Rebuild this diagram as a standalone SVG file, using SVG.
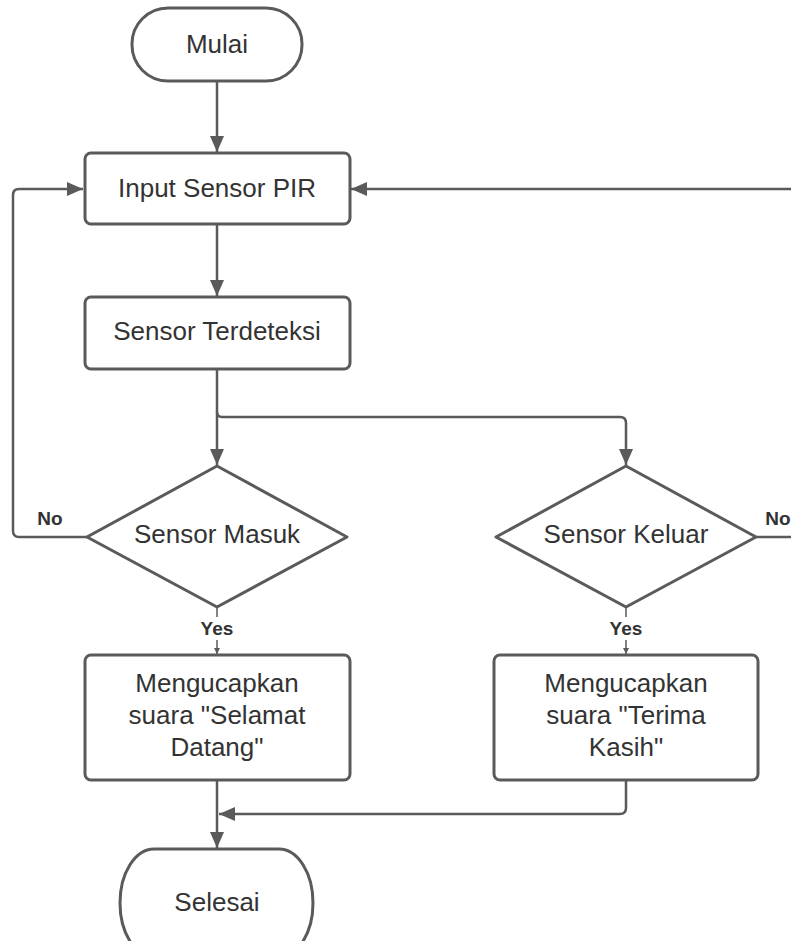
<svg xmlns="http://www.w3.org/2000/svg" width="791" height="941" viewBox="0 0 791 941">
<defs>
<style>
.shape{fill:#fff;stroke:#5a5a5a;stroke-width:3}
.conn{fill:none;stroke:#5a5a5a;stroke-width:2.5;stroke-linejoin:round}
.thin{fill:none;stroke:#5a5a5a;stroke-width:1.5}
.t{font-family:"Liberation Sans",Arial,Helvetica,sans-serif;font-size:26px;fill:#333;text-anchor:middle;dominant-baseline:central}
.lbl{font-family:"Liberation Sans",Arial,Helvetica,sans-serif;font-size:19px;font-weight:bold;fill:#333;text-anchor:middle;dominant-baseline:central}
</style>
<marker id="arr" markerUnits="userSpaceOnUse" viewBox="0 0 16 14" markerWidth="16" markerHeight="14" refX="16" refY="7" orient="auto">
<path d="M0,0 L16,7 L0,14 z" fill="#5a5a5a"/>
</marker>
<marker id="sarr" markerUnits="userSpaceOnUse" viewBox="0 0 6 6" markerWidth="6" markerHeight="6" refX="6" refY="3" orient="auto">
<path d="M0,0 L6,3 L0,6 z" fill="#5a5a5a"/>
</marker>
</defs>
<rect width="791" height="941" fill="#fff"/>
<g id="connectors">
<path class="conn" d="M217,81 V152" marker-end="url(#arr)"/>
<path class="conn" d="M217,224 V296" marker-end="url(#arr)"/>
<path class="conn" d="M217,369 V465" marker-end="url(#arr)"/>
<path class="conn" d="M217,412 Q217,417 222,417 H620 Q626,417 626,423 V465" marker-end="url(#arr)"/>
<path class="conn" d="M87,537 H19 Q13,537 13,531 V195 Q13,189 19,189 H83" marker-end="url(#arr)"/>
<path class="conn" d="M756,537 H791"/>
<path class="conn" d="M791,189 H351" marker-end="url(#arr)"/>
<path class="thin" d="M217,607 V654" marker-end="url(#sarr)"/>
<path class="thin" d="M626,607 V654" marker-end="url(#sarr)"/>
<path class="conn" d="M217,780 V848" marker-end="url(#arr)"/>
<path class="conn" d="M626,780 V808 Q626,814 620,814 H219" marker-end="url(#arr)"/>
<g id="labels">
<text class="lbl" x="50" y="518">No</text>
<text class="lbl" x="778" y="518">No</text>
<rect x="197" y="617" width="40" height="23" fill="#fff"/>
<text class="lbl" x="217" y="628">Yes</text>
<rect x="606" y="617" width="40" height="23" fill="#fff"/>
<text class="lbl" x="626" y="628">Yes</text>
</g>
</g>
<g id="mulai">
<rect class="shape" x="132" y="8" width="170" height="73" rx="36" ry="36"/>
<text class="t" x="217" y="44">Mulai</text>
</g>
<g id="input">
<rect class="shape" x="85" y="153" width="265" height="71" rx="6"/>
<text class="t" x="217" y="188">Input Sensor PIR</text>
</g>
<g id="terdeteksi">
<rect class="shape" x="85" y="297" width="265" height="72" rx="6"/>
<text class="t" x="217" y="331">Sensor Terdeteksi</text>
</g>
<g id="masuk">
<polygon class="shape" points="217,466 347,537 217,607 87,537" stroke-linejoin="round"/>
<text class="t" x="217" y="534">Sensor Masuk</text>
</g>
<g id="keluar">
<polygon class="shape" points="626,466 756,537 626,607 496,537" stroke-linejoin="round"/>
<text class="t" x="626" y="534">Sensor Keluar</text>
</g>
<g id="selamat">
<rect class="shape" x="85" y="655" width="265" height="125" rx="6"/>
<text class="t" x="217" y="683">Mengucapkan</text>
<text class="t" x="217" y="715">suara "Selamat</text>
<text class="t" x="217" y="747">Datang"</text>
</g>
<g id="terimakasih">
<rect class="shape" x="494" y="655" width="264" height="125" rx="6"/>
<text class="t" x="626" y="683">Mengucapkan</text>
<text class="t" x="626" y="715">suara "Terima</text>
<text class="t" x="626" y="747">Kasih"</text>
</g>
<g id="selesai">
<rect class="shape" x="120" y="849" width="193" height="108" rx="34" ry="54"/>
<text class="t" x="217" y="902">Selesai</text>
</g>
</svg>
